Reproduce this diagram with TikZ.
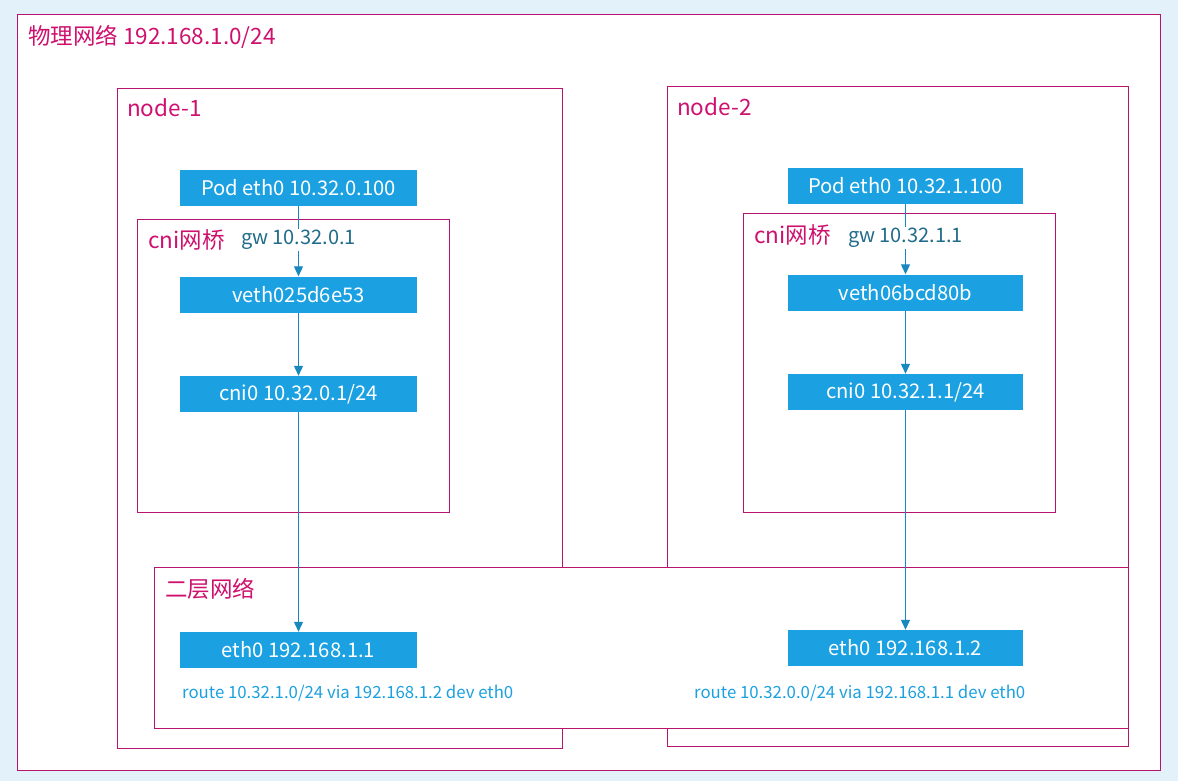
\documentclass[tikz,border=0pt]{standalone}
\usepackage{fontspec}
\setmainfont{Noto Sans CJK SC}
\usepackage{tikz}
\usetikzlibrary{arrows.meta,positioning}
\definecolor{mybg}{RGB}{227,241,251}
\definecolor{mymagenta}{RGB}{183,20,112}
\definecolor{mypink}{RGB}{206,16,110}
\definecolor{myblue}{RGB}{27,161,226}
\definecolor{myteal}{RGB}{32,108,138}
\tikzstyle{iface}=[fill=myblue,text=white,minimum height=36pt,inner sep=0pt,font=\fontsize{20.2}{22}\selectfont]
\begin{document}
\begin{tikzpicture}[
  x=1pt,y=-1pt,
  frame/.style={
    draw=mymagenta,
    fill=white,
    line width=1.1pt,
    anchor=north west,
    inner sep=0pt
    },
  title/.style={text=mypink,anchor=west,inner sep=0pt,font=\fontsize{22.5}{24}\selectfont},
  route/.style={text=myblue,anchor=west,inner sep=0pt,font=\fontsize{16.8}{18}\selectfont},
  gw/.style={text=myteal,fill=white,inner sep=1pt,font=\fontsize{20}{22}\selectfont},
  link/.style={draw=myblue!85!black,line width=1.1pt,-{Triangle[width=9pt,length=10pt]}}
]
\fill[mybg] (0,0) rectangle (1178,781);

\node[frame,minimum width=1143pt,minimum height=756pt] (phys) at (17,14) {};
\node[frame,minimum width=445pt,minimum height=660pt] (nodeA) at (117,88) {};
\node[frame,minimum width=461pt,minimum height=660pt] (nodeB) at (667,86) {};
\node[frame,minimum width=312pt,minimum height=293pt] (bridgeA) at (137,219) {};
\node[frame,minimum width=312pt,minimum height=299pt] (bridgeB) at (743,213) {};
\node[frame,minimum width=974pt,minimum height=161pt] (l2net) at (154,567) {};

\node[title] (physlabel) at (28,37) {物理网络 192.168.1.0/24};
\node[title] (nodeAlabel) at (127,108) {node-1};
\node[title] (nodeBlabel) at (677,107) {node-2};
\node[title] (bridgeAlabel) at (148,240) {cni网桥};
\node[title] (bridgeBlabel) at (754,235) {cni网桥};
\node[title] (l2label) at (165,589) {二层网络};

\node[iface,minimum width=237pt] (podA) at (298.5,188) {Pod eth0 10.32.0.100};
\node[iface,minimum width=237pt] (vethA) at (298.5,294.5) {veth025d6e53};
\node[iface,minimum width=237pt] (cniA) at (298.5,394) {cni0 10.32.0.1/24};
\node[iface,minimum width=237pt] (ethA) at (298.5,650) {eth0 192.168.1.1};

\node[iface,minimum width=235pt] (podB) at (905.5,186) {Pod eth0 10.32.1.100};
\node[iface,minimum width=235pt] (vethB) at (905.5,292.5) {veth06bcd80b};
\node[iface,minimum width=235pt] (cniB) at (905.5,392) {cni0 10.32.1.1/24};
\node[iface,minimum width=235pt] (ethB) at (905.5,648) {eth0 192.168.1.2};

\draw[link] (podA) -- node[gw,pos=0.48] {gw 10.32.0.1} (vethA);
\draw[link] (vethA) -- (cniA);
\draw[link] (cniA) -- (ethA);
\draw[link] (podB) -- node[gw,pos=0.48] {gw 10.32.1.1} (vethB);
\draw[link] (vethB) -- (cniB);
\draw[link] (cniB) -- (ethB);

\node[route] (routeA) at (182,693) {route 10.32.1.0/24 via 192.168.1.2 dev eth0};
\node[route] (routeB) at (694,693) {route 10.32.0.0/24 via 192.168.1.1 dev eth0};

\end{tikzpicture}
\end{document}
